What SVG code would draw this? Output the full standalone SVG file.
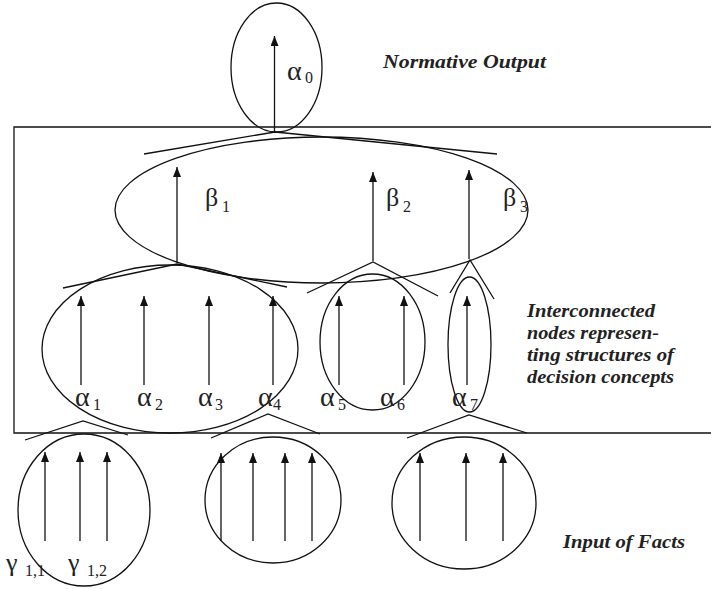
<svg xmlns="http://www.w3.org/2000/svg" width="711" height="589" viewBox="0 0 711 589">
<style>
.ln{stroke:#111;stroke-width:1.3;fill:none}
.el{stroke:#111;stroke-width:1.3;fill:none}
.ar{stroke:#111;stroke-width:1.3;fill:none;marker-end:url(#ah)}
.g{font-family:"Liberation Serif","Times New Roman",serif;font-size:28px;fill:#222}
.b{font-family:"Liberation Serif","Times New Roman",serif;font-size:26px;fill:#222}
.s{font-family:"Liberation Serif","Times New Roman",serif;font-size:16px;fill:#222}
.cap{font-family:"Liberation Serif","Times New Roman",serif;font-size:18px;font-weight:bold;font-style:italic;fill:#222}
</style>
<defs>
<marker id="ah" markerUnits="userSpaceOnUse" markerWidth="10" markerHeight="8" refX="10" refY="4" orient="auto">
<path d="M0,0 L10,4 L0,8 z" fill="#111"/>
</marker>
</defs>
<rect width="711" height="589" fill="#fff"/>
<path class="ln" d="M711,127 H14 V433 H711" stroke="#333"/>
<g id="connectors">
<polyline class="ln" points="144,154 275,132 497,154"/>
<polyline class="ln" points="63,288 177,264 287,287"/>
<polyline class="ln" points="307,293 373,262 438,296"/>
<polyline class="ln" points="450,293 470,260 494,299"/>
<polyline class="ln" points="25,440 83,421 128,435"/>
<polyline class="ln" points="211,438 268,414 320,434"/>
<polyline class="ln" points="407,438 469,415 527,433"/>
<line class="ar" x1="274.5" y1="132" x2="274.5" y2="36"/>
<line class="ar" x1="177" y1="263" x2="177" y2="167"/>
<line class="ar" x1="373" y1="261" x2="373" y2="172"/>
<line class="ar" x1="469" y1="259" x2="469" y2="170"/>
<line class="ar" x1="81" y1="385" x2="81" y2="296"/>
<line class="ar" x1="144" y1="385" x2="144" y2="296"/>
<line class="ar" x1="209" y1="385" x2="209" y2="296"/>
<line class="ar" x1="273" y1="385" x2="273" y2="296"/>
<line class="ar" x1="339" y1="385" x2="339" y2="296"/>
<line class="ar" x1="404" y1="385" x2="404" y2="296"/>
<line class="ar" x1="467" y1="385" x2="467" y2="296"/>
<line class="ar" x1="45" y1="541" x2="45" y2="452"/>
<line class="ar" x1="80" y1="541" x2="80" y2="452"/>
<line class="ar" x1="107" y1="541" x2="107" y2="452"/>
<line class="ar" x1="221" y1="541" x2="221" y2="453"/>
<line class="ar" x1="253" y1="541" x2="253" y2="453"/>
<line class="ar" x1="285" y1="541" x2="285" y2="453"/>
<line class="ar" x1="312" y1="541" x2="312" y2="453"/>
<line class="ar" x1="420" y1="541" x2="420" y2="453"/>
<line class="ar" x1="466" y1="541" x2="466" y2="453"/>
<line class="ar" x1="503" y1="541" x2="503" y2="453"/>
</g>
<g id="node-alpha0">
<ellipse class="el" cx="276.5" cy="67.5" rx="45.5" ry="64.5"/>
<text class="g" x="287" y="80">α</text><text class="s" x="305" y="83">0</text>
</g>
<g id="node-beta">
<ellipse class="el" cx="321.5" cy="210" rx="206.5" ry="73"/>
<text class="b" x="205" y="206">β</text><text class="s" x="222" y="212">1</text>
<text class="b" x="386" y="206">β</text><text class="s" x="403" y="212">2</text>
<text class="b" x="503" y="206">β</text><text class="s" x="520" y="212">3</text>
</g>
<g id="node-alpha1-4">
<ellipse class="el" cx="170" cy="349" rx="128" ry="84"/>
<text class="g" x="75" y="406">α</text><text class="s" x="93" y="410">1</text>
<text class="g" x="137" y="406">α</text><text class="s" x="155" y="410">2</text>
<text class="g" x="198" y="406">α</text><text class="s" x="215" y="410">3</text>
<text class="g" x="258" y="406">α</text><text class="s" x="273" y="410">4</text>
</g>
<g id="node-alpha5-6">
<ellipse class="el" cx="372.5" cy="342" rx="52.5" ry="68"/>
<text class="g" x="320" y="406">α</text><text class="s" x="338" y="410">5</text>
<text class="g" x="380" y="406">α</text><text class="s" x="397" y="410">6</text>
</g>
<g id="node-alpha7">
<ellipse class="el" cx="469.5" cy="344.5" rx="21.5" ry="67.5"/>
<text class="g" x="452" y="406">α</text><text class="s" x="470" y="410">7</text>
</g>
<g id="node-facts1">
<ellipse class="el" cx="84" cy="510" rx="66" ry="76"/>
<text class="b" x="6" y="571">γ</text><text class="s" x="25" y="576">1,1</text>
<text class="b" x="68" y="571">γ</text><text class="s" x="87" y="576">1,2</text>
</g>
<g id="node-facts2">
<ellipse class="el" cx="273" cy="500" rx="68" ry="63"/>
</g>
<g id="node-facts3">
<ellipse class="el" cx="464" cy="503" rx="72" ry="66"/>
</g>
<g id="captions">
<text class="cap" x="383" y="68" textLength="163" lengthAdjust="spacingAndGlyphs">Normative Output</text>
<text class="cap" x="527" y="317" textLength="128" lengthAdjust="spacingAndGlyphs">Interconnected</text>
<text class="cap" x="527" y="339" textLength="132" lengthAdjust="spacingAndGlyphs">nodes represen-</text>
<text class="cap" x="527" y="361" textLength="147" lengthAdjust="spacingAndGlyphs">ting structures of</text>
<text class="cap" x="527" y="383" textLength="147" lengthAdjust="spacingAndGlyphs">decision concepts</text>
<text class="cap" x="563" y="548" textLength="122" lengthAdjust="spacingAndGlyphs">Input of Facts</text>
</g>
</svg>
